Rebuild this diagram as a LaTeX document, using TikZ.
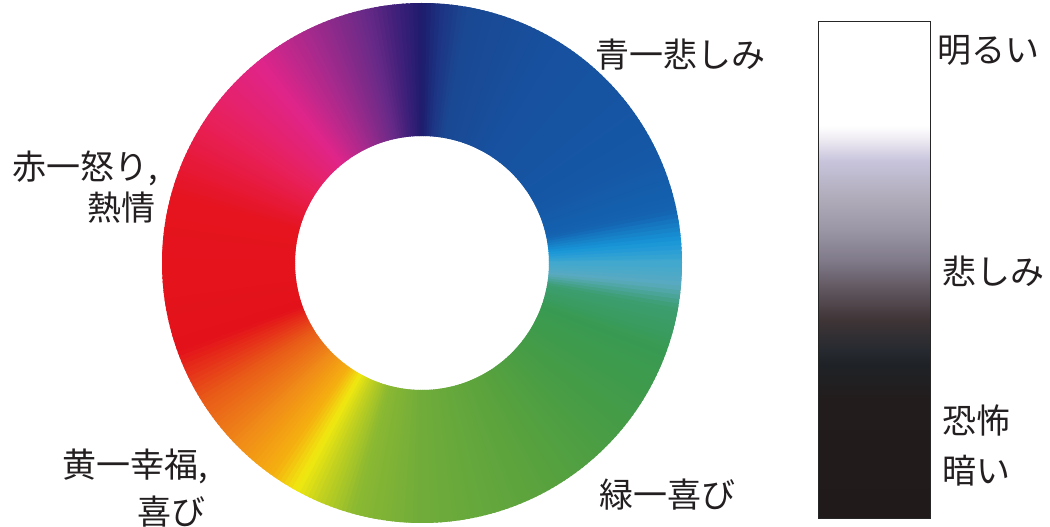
\documentclass[tikz,border=0pt]{standalone}
\usepackage{fontspec}
\setmainfont{Noto Sans CJK JP}
% wheel key colours (angle in degrees, counter-clockwise from east)
\definecolor{k0}{HTML}{40A8D0}
\definecolor{k5}{HTML}{1896D8}
\definecolor{k12}{HTML}{1462B0}
\definecolor{k25}{HTML}{1558A6}
\definecolor{k60}{HTML}{17509E}
\definecolor{k80}{HTML}{1A4892}
\definecolor{k86}{HTML}{1C3282}
\definecolor{k90}{HTML}{1E1C6C}
\definecolor{k95}{HTML}{3A1F78}
\definecolor{k103}{HTML}{6A2A88}
\definecolor{k115}{HTML}{A02A8C}
\definecolor{k129}{HTML}{E0258A}
\definecolor{k146}{HTML}{E8205A}
\definecolor{k165}{HTML}{E5141E}
\definecolor{k200}{HTML}{E3121A}
\definecolor{k212}{HTML}{E85A18}
\definecolor{k225}{HTML}{F08C18}
\definecolor{k235}{HTML}{F5B010}
\definecolor{k241}{HTML}{F0E810}
\definecolor{k247}{HTML}{C0D020}
\definecolor{k255}{HTML}{8AB832}
\definecolor{k270}{HTML}{70AC3A}
\definecolor{k300}{HTML}{58A23E}
\definecolor{k320}{HTML}{469C46}
\definecolor{k340}{HTML}{389A52}
\definecolor{k350}{HTML}{3C9E70}
\definecolor{k355}{HTML}{5AAAC0}
% bar colours
\definecolor{gA}{HTML}{201A1A}
\definecolor{gB}{HTML}{231C1C}
\definecolor{gC}{HTML}{1E2226}
\definecolor{gD}{HTML}{262A30}
\definecolor{gE}{HTML}{3E3436}
\definecolor{gF}{HTML}{5E545C}
\definecolor{gG}{HTML}{807A8A}
\definecolor{gH}{HTML}{9A96A6}
\definecolor{gI}{HTML}{AEAAB8}
\definecolor{gJ}{HTML}{C8C4DC}
\definecolor{gK}{HTML}{ECE8F0}
\definecolor{txt}{HTML}{231F20}
\pgfdeclareverticalshading{graybar}{100bp}{color(0bp)=(gA); color(25bp)=(gA); color(36.9bp)=(gB); color(40.4bp)=(gC); color(41.9bp)=(gD); color(44.9bp)=(gE); color(47.9bp)=(gF); color(51bp)=(gG); color(54bp)=(gH); color(57bp)=(gI); color(61bp)=(gJ); color(63bp)=(gK); color(64.5bp)=(white); color(75bp)=(white); color(100bp)=(white)}
\begin{document}
\begin{tikzpicture}[x=1pt,y=1pt,
  lbl/.style={font=\fontsize{34}{40}\selectfont, text=txt, inner sep=0pt, anchor=base west}]
\useasboundingbox (0,0) rectangle (1050,527);
% colour wheel
\begin{scope}[shift={(422,264)}]
\foreach \a/\b/\ca/\cb in {0/5/k0/k5, 5/12/k5/k12, 12/25/k12/k25, 25/60/k25/k60, 60/80/k60/k80,
  80/86/k80/k86, 86/90/k86/k90, 90/95/k90/k95, 95/103/k95/k103, 103/115/k103/k115,
  115/129/k115/k129, 129/146/k129/k146, 146/165/k146/k165, 165/200/k165/k200,
  200/212/k200/k212, 212/225/k212/k225, 225/235/k225/k235, 235/241/k235/k241,
  241/247/k241/k247, 247/255/k247/k255, 255/270/k255/k270, 270/300/k270/k300,
  300/320/k300/k320, 320/340/k320/k340, 340/350/k340/k350, 350/355/k350/k355, 355/360/k355/k0}{
  \pgfmathtruncatemacro{\n}{\b-\a}
  \foreach \i in {1,...,\n}{
    \pgfmathsetmacro{\s}{\a+\i-1}
    \pgfmathsetmacro{\e}{\s+1.6}
    \pgfmathtruncatemacro{\p}{100*(\i-0.5)/\n}
    \colorlet{segc}{\cb!\p!\ca}
    \fill[segc] (\s:127pt) -- (\s:260pt) arc[start angle=\s, end angle=\e, radius=260pt]
      -- (\e:127pt) arc[start angle=\e, end angle=\s, radius=127pt] -- cycle;
  }
}
\end{scope}
% grey bar
\node[shade, shading=graybar, draw=black!85, line width=0.8pt, inner sep=0pt,
  minimum width=112pt, minimum height=497pt, anchor=north west] (bar) at (818,506) {};
% labels
\node[lbl] (blue) at (595,459) {青一悲しみ};
\node[lbl] (red1) at (12,347) {赤一怒り,};
\node[lbl] (red2) at (87,306) {熱情};
\node[lbl] (yel1) at (62,49) {黄一幸福,};
\node[lbl] (yel2) at (137,2) {喜び};
\node[lbl] (grn) at (599,19) {緑一喜び};
\node[lbl] (bright) at (937,464) {明るい};
\node[lbl] (sad) at (942,242) {悲しみ};
\node[lbl] (fear) at (942,93) {恐怖};
\node[lbl] (dark) at (942,43) {暗い};
\end{tikzpicture}
\end{document}
